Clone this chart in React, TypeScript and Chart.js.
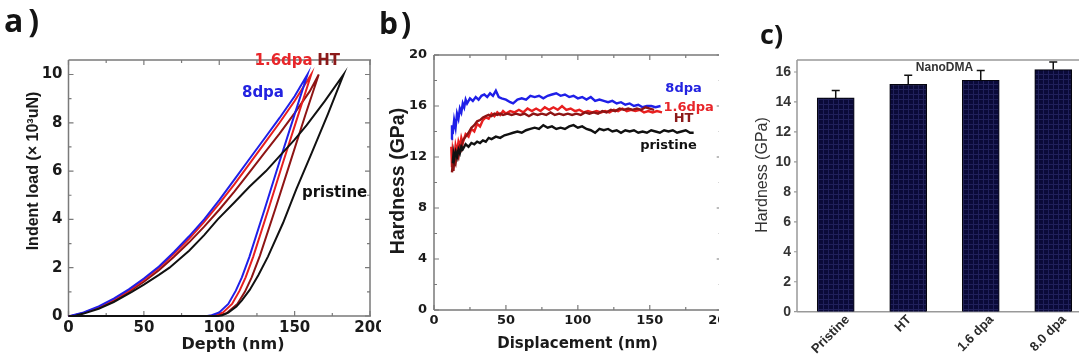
import React, { useEffect, useRef } from "react";
import { Chart, registerables } from "chart.js";
Chart.register(...registerables);

// ---------- Panel a: indent load vs depth (load ×10^3 uN, depth nm) ----------
const depthTicks = [0, 50, 100, 150, 200];
const loadTicks = [0, 2, 4, 6, 8, 10];

const loadPristine = [[0, 0], [4, 0], [10, 0.1], [20, 0.3], [30, 0.58], [42, 1.0], [50, 1.3], [60, 1.7], [67, 2.0], [80, 2.7], [90, 3.35], [99, 4.0], [110, 4.7], [120, 5.35], [131, 6.0], [140, 6.62], [150, 7.3], [158, 7.9], [170, 8.9], [182.5, 10]];
const unloadPristine = [[182.5, 10], [172, 8.35], [161, 6.7], [151, 5.23], [142.3, 3.85], [132.3, 2.46], [126, 1.7], [120.2, 1.08], [115, 0.65], [111.4, 0.39], [106, 0.14], [102, 0.03], [99, 0]];

const load8dpa = [[0, 0], [1, 0], [10, 0.15], [20, 0.4], [30, 0.72], [40, 1.1], [50, 1.55], [60, 2.05], [70, 2.65], [80, 3.3], [90, 4.0], [100, 4.8], [110, 5.65], [120, 6.5], [130, 7.35], [140, 8.2], [150, 9.1], [158.5, 10]];
const unload8dpa = [[158.5, 10], [150, 8.35], [140, 6.4], [130, 4.4], [120, 2.45], [115, 1.6], [111, 1.05], [106, 0.5], [100, 0.15], [95, 0.03], [92, 0]];

const load16dpa = [[0, 0], [2, 0], [10, 0.13], [20, 0.37], [30, 0.68], [40, 1.05], [50, 1.5], [60, 2.0], [70, 2.58], [80, 3.2], [90, 3.9], [100, 4.65], [110, 5.45], [120, 6.3], [130, 7.15], [140, 8.0], [150, 8.9], [161, 10]];
const unload16dpa = [[161, 10], [152.5, 8.35], [142.5, 6.4], [132.5, 4.4], [122.5, 2.45], [117.5, 1.6], [113.5, 1.05], [108.5, 0.5], [102.5, 0.15], [97.5, 0.03], [94, 0]];

const loadHT = [[0, 0], [2, 0], [10, 0.12], [20, 0.35], [30, 0.64], [40, 1.0], [50, 1.42], [60, 1.9], [70, 2.45], [80, 3.05], [90, 3.7], [100, 4.4], [110, 5.15], [120, 5.95], [130, 6.75], [140, 7.55], [150, 8.4], [160, 9.3], [166, 10]];
const unloadHT = [[166, 10], [157, 8.3], [147, 6.35], [137, 4.4], [127, 2.5], [121.5, 1.6], [117, 1.0], [112, 0.5], [105, 0.12], [100, 0.03], [96, 0]];

// ---------- Panel b: hardness (GPa) vs displacement (nm) ----------
const dispTicks = [0, 50, 100, 150, 200];
const hardTicks = [0, 4, 8, 12, 16, 20];

const hard8dpa = [[12, 13.4], [12.5, 14.5], [13, 13.8], [14, 14.9], [15, 14.3], [16, 15.4], [17, 15.0], [18, 15.8], [19, 15.5], [20, 16.2], [21, 15.9], [22, 16.5], [23, 16.2], [25, 16.6], [27, 16.4], [29, 16.7], [31, 16.5], [33, 16.8], [35, 16.9], [37, 16.7], [39, 17.0], [41, 16.8], [43, 17.2], [45, 16.7], [47, 16.6], [50, 16.5], [53, 16.3], [55, 16.2], [58, 16.5], [61, 16.6], [64, 16.5], [67, 16.8], [70, 16.7], [73, 16.8], [76, 16.6], [79, 16.8], [82, 16.9], [85, 17.0], [88, 16.8], [91, 16.9], [94, 16.7], [97, 16.8], [100, 16.6], [103, 16.7], [106, 16.5], [109, 16.7], [112, 16.4], [115, 16.5], [118, 16.4], [121, 16.3], [124, 16.4], [127, 16.2], [130, 16.3], [133, 16.1], [136, 16.2], [139, 16.0], [142, 16.1], [145, 15.9], [148, 16.0], [151, 16.0], [154, 15.9], [157.5, 16.0]];
const hard16dpa = [[12, 12.8], [12.5, 11.2], [13, 12.5], [14, 11.8], [15, 12.9], [16, 12.4], [17, 13.2], [18, 12.8], [19, 13.5], [20, 13.1], [22, 13.8], [24, 13.6], [26, 14.2], [28, 14.0], [30, 14.6], [32, 14.4], [34, 14.9], [36, 15.1], [38, 15.0], [40, 15.4], [42, 15.2], [44, 15.5], [46, 15.3], [48, 15.6], [50, 15.4], [53, 15.6], [56, 15.5], [59, 15.7], [62, 15.5], [65, 15.8], [68, 15.6], [71, 15.8], [74, 15.6], [77, 15.9], [80, 15.7], [83, 15.9], [86, 15.7], [89, 16.0], [92, 15.7], [95, 15.8], [98, 15.6], [101, 15.7], [104, 15.5], [107, 15.6], [110, 15.5], [113, 15.6], [116, 15.5], [119, 15.6], [122, 15.5], [125, 15.7], [128, 15.6], [131, 15.8], [134, 15.6], [137, 15.7], [140, 15.6], [143, 15.7], [146, 15.5], [149, 15.6], [152, 15.5], [155, 15.6], [158.5, 15.5]];
const hardHT = [[12.5, 10.8], [13, 11.5], [13.5, 10.9], [14, 11.8], [15, 11.5], [16, 12.3], [17, 12.0], [18, 12.8], [19, 12.6], [20, 13.3], [22, 13.6], [24, 13.9], [26, 14.3], [28, 14.5], [30, 14.8], [32, 14.9], [34, 15.1], [36, 15.2], [38, 15.3], [40, 15.2], [42, 15.4], [44, 15.3], [46, 15.4], [48, 15.3], [51, 15.4], [54, 15.3], [57, 15.4], [60, 15.3], [63, 15.4], [66, 15.2], [69, 15.4], [72, 15.3], [75, 15.4], [78, 15.3], [81, 15.5], [84, 15.3], [87, 15.4], [90, 15.3], [93, 15.4], [96, 15.3], [99, 15.4], [102, 15.3], [105, 15.5], [108, 15.4], [111, 15.5], [114, 15.4], [117, 15.6], [120, 15.5], [123, 15.7], [126, 15.6], [129, 15.8], [132, 15.7], [135, 15.8], [138, 15.7], [141, 15.8], [144, 15.7], [147, 15.9], [150, 15.8], [153, 15.7]];
const hardPristine = [[13, 11.5], [13.5, 12.2], [14, 11.8], [15, 12.4], [16, 12.0], [17, 12.6], [18, 12.3], [19, 12.8], [20, 12.6], [22, 13.0], [24, 12.8], [26, 13.1], [28, 13.0], [30, 13.2], [32, 13.1], [34, 13.3], [36, 13.2], [38, 13.5], [40, 13.4], [43, 13.6], [46, 13.5], [49, 13.7], [52, 13.8], [55, 13.9], [58, 14.0], [61, 13.9], [64, 14.1], [67, 14.2], [70, 14.3], [73, 14.2], [76, 14.5], [79, 14.3], [82, 14.4], [85, 14.2], [88, 14.3], [91, 14.2], [94, 14.4], [97, 14.5], [100, 14.3], [103, 14.4], [106, 14.2], [109, 14.1], [112, 13.9], [115, 14.2], [118, 14.1], [121, 14.2], [124, 14.0], [127, 14.1], [130, 13.9], [133, 14.1], [136, 14.0], [139, 14.1], [142, 13.9], [145, 14.0], [148, 13.9], [151, 14.1], [154, 14.0], [157, 13.9], [160, 14.1], [163, 14.0], [166, 14.1], [169, 13.9], [172, 14.0], [175, 14.1], [178, 13.9], [180.5, 13.9]];

// ---------- Panel c: NanoDMA hardness bars ----------
const barCategories = ["Pristine", "HT", "1.6 dpa", "8.0 dpa"];
const barHardness = [14.27, 15.18, 15.45, 16.16];
const barError = [0.5, 0.6, 0.65, 0.5];
const barAxisTicks = [0, 2, 4, 6, 8, 10, 12, 14, 16];

// ---------- styles ----------
const C8 = "#1f1fe8";
const C16 = "#e81f1f";
const CHT = "#8e1414";
const CPR = "#111111";
const WIDE = "'DejaVu Sans', sans-serif";
const ARIAL = "'Liberation Sans', Arial, sans-serif";

const toXY = (arr) => arr.map(([x, y]) => ({ x, y }));
const cycle = (load, unload) => {
  const hf = unload[unload.length - 1][0];
  return toXY([[hf, 0], ...load, ...unload.slice(1)]);
};

const fixBox = (w, h) => (s) => {
  if (w !== undefined) s.width = w;
  if (h !== undefined) s.height = h;
  s.paddingLeft = 0; s.paddingRight = 0; s.paddingTop = 0; s.paddingBottom = 0;
};
const setTicks = (vals) => (s) => { s.ticks = vals.map((v) => ({ value: v })); };

const frameTicks = (cfg) => ({
  id: "frameTicks",
  beforeDatasetsDraw(chart) {
    const { ctx, chartArea: a, scales } = chart;
    ctx.save();
    ctx.strokeStyle = cfg.color;
    ctx.lineWidth = cfg.lineWidth;
    ctx.beginPath();
    if (cfg.sides.includes("top")) { ctx.moveTo(a.left, a.top); ctx.lineTo(a.right + 1, a.top); }
    if (cfg.sides.includes("bottom")) { ctx.moveTo(a.left, a.bottom); ctx.lineTo(a.right + 1, a.bottom); }
    if (cfg.sides.includes("left")) { ctx.moveTo(a.left, a.top); ctx.lineTo(a.left, a.bottom); }
    if (cfg.sides.includes("right")) { ctx.moveTo(a.right, a.top); ctx.lineTo(a.right, a.bottom); }
    ctx.stroke();
    ctx.lineWidth = cfg.tickWidth;
    ctx.beginPath();
    const xs = scales.x, ys = scales.y;
    if (cfg.xMinor) {
      for (let v = 0; v <= xs.max + 1e-9; v += cfg.xMinor) {
        const px = xs.getPixelForValue(v);
        const len = Math.abs(v / cfg.xMajor - Math.round(v / cfg.xMajor)) < 1e-6 ? cfg.major : cfg.minor;
        ctx.moveTo(px, a.bottom); ctx.lineTo(px, a.bottom - len);
        ctx.moveTo(px, a.top); ctx.lineTo(px, a.top + len);
      }
    }
    if (cfg.yMinor) {
      for (let v = 0; v <= ys.max + 1e-9; v += cfg.yMinor) {
        const py = ys.getPixelForValue(v);
        const len = Math.abs(v / cfg.yMajor - Math.round(v / cfg.yMajor)) < 1e-6 ? cfg.major : cfg.minor;
        if (cfg.outward) {
          ctx.moveTo(a.left, py); ctx.lineTo(a.left - len, py);
        } else {
          ctx.moveTo(a.left, py); ctx.lineTo(a.left + len, py);
          ctx.moveTo(a.right, py); ctx.lineTo(a.right - len, py);
        }
      }
    }
    ctx.stroke();
    ctx.restore();
  },
});

const textLabels = (items, font) => ({
  id: "textLabels",
  afterDatasetsDraw(chart) {
    const { ctx, scales } = chart;
    ctx.save();
    ctx.font = font;
    ctx.textAlign = "center";
    ctx.textBaseline = "middle";
    items.forEach((t) => {
      ctx.fillStyle = t.color;
      ctx.fillText(t.text, scales.x.getPixelForValue(t.x), scales.y.getPixelForValue(t.y));
    });
    ctx.restore();
  },
});

const labelsA = [
  { text: "1.6dpa", x: 142.7, y: 10.55, color: "#e8262a" },
  { text: "HT", x: 172.5, y: 10.55, color: "#8b1a1a" },
  { text: "8dpa", x: 129, y: 9.24, color: "#2323e0" },
  { text: "pristine", x: 176.5, y: 5.09, color: "#111" },
];
const labelsB = [
  { text: "8dpa", x: 173.5, y: 17.4, color: "#2323e0" },
  { text: "1.6dpa", x: 177, y: 15.9, color: "#e8262a" },
  { text: "HT", x: 173.5, y: 15.0, color: "#8b1a1a" },
  { text: "pristine", x: 163, y: 12.9, color: "#111" },
];

const lineDs = (label, data, color, width = 2) => ({
  label, data, borderColor: color, backgroundColor: color, showLine: true,
  pointRadius: 0, borderWidth: width, fill: false, tension: 0, clip: false,
});

const barExtras = {
  id: "barExtras",
  afterDatasetsDraw(chart) {
    const { ctx, scales, chartArea: a } = chart;
    ctx.save();
    ctx.strokeStyle = "#111";
    ctx.lineWidth = 1.5;
    ctx.beginPath();
    barHardness.forEach((v, i) => {
      const px = scales.x.getPixelForValue(i + 1);
      const y0 = scales.y.getPixelForValue(v);
      const y1 = scales.y.getPixelForValue(v + barError[i]);
      ctx.moveTo(px, y0); ctx.lineTo(px, y1);
      ctx.moveTo(px - 4, y1); ctx.lineTo(px + 4, y1);
    });
    ctx.stroke();
    ctx.font = "bold 12px " + ARIAL;
    ctx.fillStyle = "#333";
    ctx.textAlign = "center";
    ctx.textBaseline = "middle";
    ctx.fillText("NanoDMA", scales.x.getPixelForValue(2.5), a.top + 8);
    // rotated category labels, centred near each bar
    ctx.font = "bold 13px " + ARIAL;
    ctx.fillStyle = "#2a2a2a";
    barCategories.forEach((name, i) => {
      const px = scales.x.getPixelForValue(i + 1);
      const w = ctx.measureText(name).width;
      const half = (w / 2) * Math.SQRT1_2;
      ctx.save();
      ctx.translate(px - 5, a.bottom + 6 + half);
      ctx.rotate(-Math.PI / 4);
      ctx.fillText(name, 0, 0);
      ctx.restore();
    });
    ctx.restore();
  },
};

export default function App() {
  const refA = useRef(null);
  const refB = useRef(null);
  const refC = useRef(null);

  useEffect(() => {
    const tickFontA = { family: WIDE, size: 15, weight: "bold" };
    const chartA = new Chart(refA.current, {
      type: "scatter",
      data: {
        datasets: [
          lineDs("pristine", cycle(loadPristine, unloadPristine), CPR),
          lineDs("8dpa", cycle(load8dpa, unload8dpa), C8),
          lineDs("1.6dpa", cycle(load16dpa, unload16dpa), C16),
          lineDs("HT", cycle(loadHT, unloadHT), CHT),
        ],
      },
      options: {
        responsive: false, animation: false, events: [],
        layout: { padding: { left: 0, right: 11, top: 60, bottom: 0 } },
        plugins: { legend: { display: false }, tooltip: { enabled: false } },
        scales: {
          x: {
            type: "linear", min: 0, max: 200,
            grid: { display: false, drawTicks: false }, border: { display: false },
            ticks: { font: tickFontA, color: "#1a1a1a", padding: 3, maxRotation: 0 },
            afterBuildTicks: setTicks(depthTicks), afterFit: fixBox(undefined, 45),
          },
          y: {
            type: "linear", min: 0, max: 10.6,
            grid: { display: false, drawTicks: false }, border: { display: false },
            ticks: { font: tickFontA, color: "#1a1a1a", padding: 6 },
            afterBuildTicks: setTicks(loadTicks), afterFit: fixBox(68.5, undefined),
          },
        },
      },
      plugins: [
        frameTicks({ color: "#7a7a7a", lineWidth: 1.5, tickWidth: 1.2, sides: ["top", "bottom", "left", "right"], xMinor: 25, xMajor: 50, yMinor: 1, yMajor: 2, major: 5, minor: 3 }),
        textLabels(labelsA, "bold 15px " + WIDE),
      ],
    });

    const tickFontB = { family: WIDE, size: 13, weight: "bold" };
    const chartB = new Chart(refB.current, {
      type: "scatter",
      data: {
        datasets: [
          lineDs("pristine", toXY(hardPristine), CPR, 2.4),
          lineDs("HT", toXY(hardHT), CHT, 2.4),
          lineDs("1.6dpa", toXY(hard16dpa), C16, 2.4),
          lineDs("8dpa", toXY(hard8dpa), C8, 2.4),
        ],
      },
      options: {
        responsive: false, animation: false, events: [],
        layout: { padding: { left: 0, right: 9.3, top: 55, bottom: 0 } },
        plugins: { legend: { display: false }, tooltip: { enabled: false } },
        scales: {
          x: {
            type: "linear", min: 0, max: 200,
            grid: { display: false, drawTicks: false }, border: { display: false },
            ticks: { font: tickFontB, color: "#1a1a1a", padding: 3, maxRotation: 0 },
            afterBuildTicks: setTicks(dispTicks), afterFit: fixBox(undefined, 51),
          },
          y: {
            type: "linear", min: 0, max: 20,
            grid: { display: false, drawTicks: false }, border: { display: false },
            ticks: { font: tickFontB, color: "#1a1a1a", padding: 7 },
            afterBuildTicks: setTicks(hardTicks), afterFit: fixBox(53, undefined),
          },
        },
      },
      plugins: [
        frameTicks({ color: "#7a7a7a", lineWidth: 1.5, tickWidth: 1.2, sides: ["top", "bottom", "left", "right"], xMinor: 25, xMajor: 50, yMinor: 2, yMajor: 4, major: 5, minor: 3 }),
        textLabels(labelsB, "bold 13px " + WIDE),
      ],
    });

    const pc = document.createElement("canvas");
    pc.width = 5; pc.height = 5;
    const g = pc.getContext("2d");
    g.fillStyle = "#0a0a38"; g.fillRect(0, 0, 5, 5);
    g.fillStyle = "#20205a"; g.fillRect(4, 0, 1, 5); g.fillRect(0, 4, 5, 1);
    const pattern = refC.current.getContext("2d").createPattern(pc, "repeat");

    const tickFontC = { family: ARIAL, size: 14, weight: "bold" };
    const chartC = new Chart(refC.current, {
      type: "bar",
      data: {
        datasets: [{
          label: "NanoDMA",
          data: barHardness.map((v, i) => ({ x: i + 1, y: v })),
          backgroundColor: pattern, borderColor: "#050510", borderWidth: 1.2,
          barThickness: 37,
        }],
      },
      options: {
        responsive: false, animation: false, events: [],
        layout: { padding: { left: 0, right: 29.5, top: 60, bottom: 0 } },
        plugins: { legend: { display: false }, tooltip: { enabled: false } },
        scales: {
          x: {
            type: "linear", min: 0.466, max: 4.5, offset: false,
            grid: { display: false, drawTicks: false }, border: { display: false },
            ticks: { display: false },
            afterBuildTicks: setTicks(barCategories.map((_, i) => i + 1)), afterFit: fixBox(undefined, 49.3),
          },
          y: {
            type: "linear", min: 0, max: 16.8,
            grid: { display: false, drawTicks: false }, border: { display: false },
            ticks: { font: tickFontC, color: "#333", padding: 6 },
            afterBuildTicks: setTicks(barAxisTicks), afterFit: fixBox(78, undefined),
          },
        },
      },
      plugins: [
        frameTicks({ color: "#999", lineWidth: 1.5, tickWidth: 1.2, sides: ["top", "bottom", "left"], yMinor: 2, yMajor: 2, major: 3, minor: 3, outward: true }),
        barExtras,
      ],
    });

    return () => { chartA.destroy(); chartB.destroy(); chartC.destroy(); };
  }, []);

  const abs = (extra) => ({ position: "absolute", whiteSpace: "nowrap", lineHeight: 1, ...extra });
  const center = (x, y, rot, font, color = "#1a1a1a") => abs({
    left: x, top: y, font, color,
    transform: `translate(-50%, -50%)${rot ? " rotate(-90deg)" : ""}`,
  });

  return (
    <div style={{ position: "fixed", left: 0, top: 0, width: 1079, height: 361, background: "#fff", overflow: "hidden" }}>
      <div style={{ position: "absolute", left: 0, top: 0, width: 381, height: 361, overflow: "hidden", background: "#fff" }}>
        <canvas ref={refA} width={381} height={361} style={{ display: "block" }} />
      </div>
      <div style={{ position: "absolute", left: 381, top: 0, width: 338, height: 361, overflow: "hidden", background: "#fff" }}>
        <canvas ref={refB} width={350} height={361} style={{ display: "block" }} />
      </div>
      <div style={{ position: "absolute", left: 719, top: 0, width: 360, height: 361, overflow: "hidden", background: "#fff" }}>
        <canvas ref={refC} width={400} height={361} style={{ display: "block" }} />
      </div>

      <div style={abs({ left: 4, top: -2, font: "bold 32px 'Open Sans', sans-serif", letterSpacing: 5, color: "#141414" })}>a)</div>
      <div style={abs({ left: 379, top: 2, font: "bold 30px 'Open Sans', sans-serif", letterSpacing: 3, color: "#141414" })}>b)</div>
      <div style={abs({ left: 760, top: 15, font: "bold 27px 'Open Sans', sans-serif", color: "#141414" })}>c)</div>

      <div style={center(33, 170.5, true, "bold 16px " + ARIAL)}>Indent load (× 10³uN)</div>
      <div style={center(233, 342.5, false, "bold 16px " + WIDE)}>Depth (nm)</div>
      <div style={center(396.7, 181, true, "bold 19.5px " + ARIAL)}>Hardness (GPa)</div>
      <div style={center(577.5, 343, false, "bold 15px " + WIDE)}>Displacement (nm)</div>
      <div style={center(762, 175, true, "16px " + ARIAL, "#333")}>Hardness (GPa)</div>
    </div>
  );
}
